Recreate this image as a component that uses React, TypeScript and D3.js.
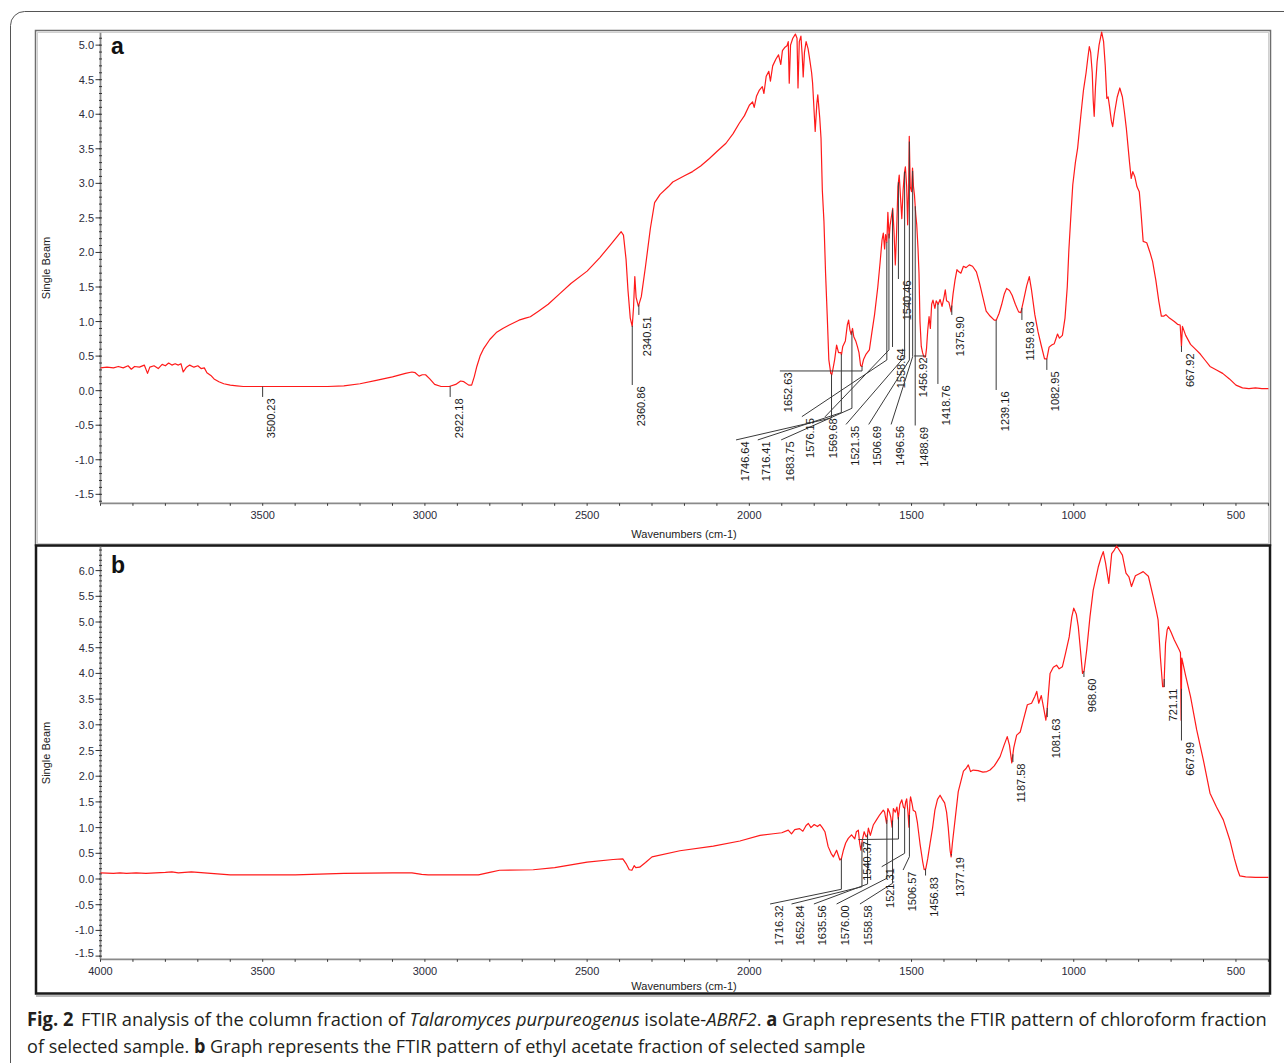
import React, { useLayoutEffect, useRef } from 'react';
import * as d3 from 'd3';

// ---- panel a: chloroform fraction (wavenumber, single beam) ----
const wnA = [
  4000, 3980, 3960, 3945, 3930, 3915, 3905, 3895, 3880, 3865, 3855, 3848, 3835, 3822, 3810, 3800, 3790, 3780,
  3770, 3760, 3752, 3745, 3735, 3725, 3712, 3700, 3690, 3680, 3672, 3660, 3650, 3635, 3620, 3600, 3580, 3560,
  3500, 3300, 3250, 3200, 3150, 3100, 3060, 3040, 3030, 3018, 3008, 2998, 2985, 2970, 2950, 2925, 2905, 2890,
  2880, 2865, 2856, 2848, 2840, 2830, 2820, 2800, 2780, 2760, 2740, 2710, 2690, 2675, 2650, 2620, 2585, 2550,
  2500, 2460, 2430, 2395, 2388, 2380, 2374, 2367, 2361, 2357, 2353, 2349, 2342, 2333, 2320, 2305, 2292, 2275,
  2250, 2236, 2200, 2175, 2150, 2123, 2100, 2072, 2050, 2031, 2015, 2000, 1990, 1985, 1978, 1969, 1960, 1955,
  1948, 1940, 1935, 1928, 1918, 1910, 1903, 1898, 1890, 1884, 1880, 1877, 1873, 1866, 1858, 1853, 1850, 1846,
  1841, 1837, 1834, 1830, 1825, 1819, 1815, 1808, 1805, 1801, 1797, 1792, 1789, 1783, 1779, 1775, 1770, 1765,
  1760, 1755, 1749, 1746, 1742, 1737, 1731, 1725, 1718, 1716, 1712, 1704, 1698, 1694, 1690, 1686, 1682, 1678,
  1672, 1667, 1662, 1657, 1653, 1648, 1640, 1630, 1622, 1614, 1604, 1597, 1591, 1587, 1583, 1580, 1576, 1573,
  1569, 1566, 1562, 1558, 1554, 1550, 1546, 1542, 1538, 1534, 1530, 1526, 1522, 1519, 1515, 1512, 1509, 1507,
  1504, 1500, 1497, 1494, 1491, 1487, 1484, 1480, 1477, 1474, 1470, 1466, 1462, 1457, 1454, 1450, 1446, 1442,
  1438, 1434, 1428, 1424, 1418, 1412, 1406, 1400, 1396, 1392, 1385, 1378, 1372, 1366, 1360, 1354, 1348, 1340,
  1332, 1322, 1312, 1300, 1290, 1280, 1270, 1258, 1245, 1239, 1230, 1222, 1214, 1207, 1198, 1190, 1180, 1170,
  1163, 1155, 1145, 1137, 1130, 1120, 1110, 1100, 1090, 1083, 1076, 1068, 1060, 1050, 1044, 1035, 1027, 1020,
  1015, 1008, 1003, 995, 988, 978, 970, 962, 957, 952, 948, 943, 940, 937, 933, 928, 922, 914, 908, 903, 898,
  894, 890, 884, 880, 875, 866, 858, 850, 844, 838, 834, 828, 823, 818, 812, 805, 798, 793, 786, 775, 765, 757,
  747, 738, 730, 722, 716, 705, 690, 680, 672, 668, 665, 655, 640, 625, 610, 595, 580, 560, 541, 520, 500, 480,
  460, 440, 420, 400,
];
const beamA = [
  0.33, 0.34, 0.33, 0.35, 0.33, 0.36, 0.31, 0.35, 0.34, 0.37, 0.25, 0.34, 0.36, 0.32, 0.38, 0.36, 0.40, 0.37,
  0.39, 0.37, 0.39, 0.27, 0.34, 0.37, 0.34, 0.36, 0.32, 0.33, 0.26, 0.22, 0.17, 0.13, 0.10, 0.08, 0.07, 0.06,
  0.06, 0.06, 0.07, 0.10, 0.15, 0.20, 0.25, 0.27, 0.26, 0.21, 0.23, 0.23, 0.17, 0.09, 0.06, 0.06, 0.09, 0.14,
  0.13, 0.08, 0.08, 0.20, 0.35, 0.50, 0.60, 0.74, 0.84, 0.90, 0.95, 1.02, 1.05, 1.07, 1.15, 1.25, 1.40, 1.55,
  1.73, 1.93, 2.10, 2.30, 2.25, 1.90, 1.45, 1.05, 0.93, 1.20, 1.65, 1.35, 1.22, 1.36, 1.80, 2.35, 2.72, 2.84,
  2.95, 3.02, 3.11, 3.17, 3.25, 3.36, 3.46, 3.58, 3.72, 3.87, 3.98, 4.13, 4.18, 4.10, 4.26, 4.35, 4.40, 4.30,
  4.55, 4.62, 4.48, 4.70, 4.80, 4.86, 4.72, 4.92, 4.97, 4.99, 5.05, 4.45, 5.00, 5.10, 5.16, 5.10, 4.38, 5.05,
  5.13, 4.85, 4.54, 4.90, 5.05, 4.95, 4.83, 4.60, 4.45, 4.10, 3.75, 4.15, 4.28, 3.95, 3.65, 2.90, 2.45, 1.70,
  1.10, 0.45, 0.25, 0.23, 0.32, 0.45, 0.66, 0.55, 0.55, 0.52, 0.64, 0.72, 0.95, 1.02, 0.88, 0.81, 0.90, 0.78,
  0.72, 0.64, 0.55, 0.36, 0.35, 0.45, 0.53, 0.59, 0.85, 1.10, 1.50, 1.85, 2.18, 2.28, 2.05, 2.26, 2.15, 2.58,
  2.21, 2.40, 2.52, 2.64, 2.30, 1.82, 2.30, 2.95, 3.12, 2.80, 2.49, 2.90, 3.15, 3.24, 2.95, 2.40, 2.90, 3.68,
  2.95, 2.88, 3.22, 2.95, 2.83, 2.55, 2.40, 2.05, 1.70, 1.00, 0.64, 0.55, 0.49, 0.49, 0.60, 0.88, 1.07, 0.90,
  1.25, 1.31, 1.19, 1.30, 1.25, 1.32, 1.22, 1.35, 1.46, 1.30, 1.28, 1.14, 1.40, 1.60, 1.75, 1.72, 1.70, 1.80,
  1.78, 1.82, 1.80, 1.72, 1.55, 1.35, 1.15, 1.08, 1.02, 1.02, 1.12, 1.25, 1.40, 1.48, 1.45, 1.38, 1.25, 1.14,
  1.13, 1.30, 1.52, 1.65, 1.45, 1.10, 0.85, 0.65, 0.46, 0.46, 0.63, 0.66, 0.68, 0.82, 0.76, 0.80, 1.05, 1.50,
  2.04, 2.60, 2.98, 3.30, 3.51, 3.99, 4.35, 4.60, 4.80, 4.98, 4.90, 4.60, 4.20, 3.97, 4.40, 4.76, 5.00, 5.19, 5.05, 4.71, 4.23,
  4.25, 4.12, 3.90, 3.82, 4.00, 4.25, 4.38, 4.25, 4.04, 3.80, 3.60, 3.30, 3.07, 3.17, 3.10, 2.95, 2.88, 2.60, 2.16, 2.14, 2.00, 1.87,
  1.60, 1.30, 1.08, 1.08, 1.10, 1.05, 1.00, 0.96, 0.95, 0.64, 0.93, 0.80, 0.67, 0.60, 0.53, 0.44, 0.35, 0.30, 0.25, 0.17, 0.08, 0.04,
  0.03, 0.04, 0.03, 0.03,
];

// ---- panel b: ethyl acetate fraction ----
const wnB = [
  4000, 3960, 3940, 3920, 3890, 3860, 3830, 3800, 3780, 3760, 3740, 3720, 3700, 3680, 3660, 3640, 3620, 3600,
  3500, 3450, 3400, 3350, 3250, 3100, 3040, 3010, 2990, 2835, 2800, 2770, 2666, 2600, 2500, 2420, 2390, 2380,
  2370, 2362, 2355, 2350, 2338, 2320, 2300, 2214, 2111, 2029, 1967, 1926, 1900, 1880, 1870, 1860, 1845, 1835,
  1825, 1818, 1810, 1800, 1790, 1782, 1775, 1767, 1757, 1748, 1741, 1731, 1721, 1716, 1710, 1703, 1695, 1685,
  1675, 1670, 1664, 1660, 1656, 1652, 1646, 1640, 1636, 1633, 1627, 1618, 1608, 1598, 1587, 1583, 1577, 1573,
  1568, 1564, 1560, 1556, 1550, 1545, 1541, 1536, 1530, 1525, 1521, 1518, 1515, 1511, 1508, 1505, 1503, 1498,
  1495, 1488, 1482, 1474, 1466, 1461, 1456, 1450, 1443, 1435, 1428, 1420, 1412, 1405, 1398, 1392, 1387, 1381,
  1378, 1374, 1365, 1356, 1348, 1340, 1332, 1325, 1318, 1310, 1295, 1280, 1268, 1258, 1245, 1237, 1227, 1215,
  1205, 1198, 1191, 1185, 1176, 1165, 1155, 1143, 1130, 1120, 1114, 1108, 1100, 1092, 1086, 1082, 1073, 1063,
  1053, 1045, 1035, 1025, 1014, 1006, 1000, 992, 986, 980, 973, 968, 960, 950, 940, 932, 924, 916, 909, 902,
  897, 892, 888, 883, 875, 868, 860, 850, 839, 830, 822, 810, 795, 786, 770, 755, 745, 740, 733, 726, 722, 717,
  712, 708, 700, 690, 675, 671, 669, 667, 655, 640, 621, 600, 580, 560, 539, 519, 505, 495, 488, 470, 440, 400,
];
const beamB = [
  0.12, 0.11, 0.12, 0.11, 0.12, 0.11, 0.12, 0.13, 0.14, 0.12, 0.13, 0.14, 0.13, 0.12, 0.11, 0.10, 0.09, 0.08,
  0.08, 0.08, 0.08, 0.09, 0.11, 0.12, 0.12, 0.09, 0.08, 0.08, 0.13, 0.17, 0.18, 0.22, 0.33, 0.38, 0.39, 0.30,
  0.18, 0.17, 0.26, 0.22, 0.23, 0.32, 0.43, 0.55, 0.64, 0.74, 0.85, 0.88, 0.90, 0.95, 0.88, 0.96, 0.98, 0.93,
  1.04, 1.08, 1.00, 1.06, 1.02, 1.06, 1.00, 0.92, 0.63, 0.50, 0.43, 0.56, 0.37, 0.40, 0.56, 0.70, 0.79, 0.86,
  0.78, 0.92, 0.95, 0.70, 0.56, 0.75, 0.92, 0.82, 0.85, 0.99, 0.85, 1.05, 1.15, 1.25, 1.34, 1.30, 1.08, 1.37,
  1.30, 1.20, 1.01, 1.37, 1.30, 1.40, 1.17, 1.45, 1.54, 1.40, 1.37, 1.50, 1.56, 1.30, 1.01, 1.50, 1.60, 1.45,
  1.34, 1.31, 1.10, 0.69, 0.35, 0.18, 0.20, 0.40, 0.69, 1.00, 1.34, 1.55, 1.63, 1.55, 1.48, 1.30, 1.01, 0.55,
  0.43, 0.70, 1.20, 1.70, 1.90, 2.10, 2.15, 2.22, 2.09, 2.12, 2.11, 2.08, 2.09, 2.12, 2.20, 2.28, 2.38, 2.60,
  2.77, 2.60, 2.26, 2.55, 2.80, 2.86, 3.10, 3.39, 3.42, 3.55, 3.65, 3.42, 3.57, 3.30, 3.09, 3.30, 4.00, 4.12,
  4.16, 4.09, 4.13, 4.40, 4.71, 5.10, 5.27, 5.15, 4.91, 4.50, 4.00, 4.05, 4.46, 5.10, 5.62, 5.85, 6.08, 6.25, 6.37, 6.15,
  5.95, 5.75, 6.00, 6.33, 6.40, 6.48, 6.40, 6.30, 5.95, 5.88, 5.69, 5.90, 5.95, 5.98, 5.89, 5.49, 5.20, 5.04, 4.32, 3.74, 3.74, 4.59,
  4.85, 4.91, 4.80, 4.65, 4.46, 4.40, 3.09, 4.30, 3.95, 3.55, 2.90, 2.30, 1.67, 1.40, 1.15, 0.76, 0.40, 0.18, 0.06, 0.04, 0.03, 0.03,
];

// peak labels (cm-1)
const peaksA = [
  3500.23, 2922.18, 2360.86, 2340.51, 1746.64, 1716.41, 1683.75, 1652.63, 1576.15, 1569.68, 1558.64, 1540.46,
  1521.35, 1506.69, 1496.56, 1488.69, 1456.92, 1418.76, 1375.9, 1239.16, 1159.83, 1082.95, 667.92,
];
const peaksB = [
  1716.32, 1652.84, 1635.56, 1576.0, 1558.58, 1540.37, 1521.31, 1506.57, 1456.83, 1377.19, 1187.58, 1081.63,
  968.6, 721.11, 667.99,
];

// callout layout per peak: [elbow value | null, label wavenumber | null, label top value]
const calloutsA: [number | null, number | null, number][] = [
  [null, null, -0.091], [null, null, -0.091], [null, null, 0.082], [null, null, 1.096],
  [-0.395, 2041, -0.713], [-0.318, 1974, -0.713], [-0.255, 1902, -0.713], [0.285, 1906, 0.285],
  [0.444, 1838, -0.376], [0.589, 1767, -0.38], [null, null, 0.632], [null, null, 1.616],
  [0.492, 1702, -0.489], [0.444, 1632, -0.489], [0.492, 1563, -0.489], [null, null, -0.504],
  [0.502, 1492, 0.502], [null, null, 0.097], [null, null, 1.096], [null, null, 0.01],
  [null, null, 1.023], [null, null, 0.3], [null, null, 0.56],
];
const calloutsB: [number | null, number | null, number][] = [
  [-0.2, 1936, -0.486], [-0.15, 1870, -0.486], [-0.097, 1801, -0.486], [0.014, 1731, -0.486],
  [-0.084, 1659, -0.486], [0.778, 1664, 0.768], [0.5, 1592, 0.239], [0.434, 1526, 0.175],
  [null, null, 0.068], [null, null, 0.457], [null, null, 2.276], [null, null, 3.15],
  [null, null, 3.93], [null, null, 3.735], [null, null, 2.695],
];

const xTickLabelsA = [3500, 3000, 2500, 2000, 1500, 1000, 500];
const xTickLabelsB = [4000, 3500, 3000, 2500, 2000, 1500, 1000, 500];
const yTicksA = [5, 4.5, 4, 3.5, 3, 2.5, 2, 1.5, 1, 0.5, 0, -0.5, -1, -1.5];
const yTicksB = [6, 5.5, 5, 4.5, 4, 3.5, 3, 2.5, 2, 1.5, 1, 0.5, 0, -0.5, -1, -1.5];

const FONT = '"Liberation Sans", Arial, Helvetica, sans-serif';
const CAPTION_FONT = '"Open Sans", "Noto Sans", sans-serif';

function valueAt(wns: number[], vals: number[], w: number) {
  for (let i = 0; i < wns.length - 1; i++) {
    if (wns[i] >= w && wns[i + 1] <= w) {
      const t = (wns[i] - w) / (wns[i] - wns[i + 1]);
      return vals[i] + t * (vals[i + 1] - vals[i]);
    }
  }
  return vals[vals.length - 1];
}

function Panel({ wns, vals, peaks, callouts, yDomain, yRange, yTicks, xLabels, letter, letterY, titleY }) {
  const x = d3.scaleLinear().domain([4000, 400]).range([100.5, 1268.4]);
  const y = d3.scaleLinear().domain(yDomain).range(yRange);
  const axisY = yRange[0];
  const line = d3
    .line<number>()
    .x((d, i) => x(wns[i]))
    .y((d) => y(d));
  const minorY = d3.range(Math.ceil(yDomain[0] * 10), Math.floor(yDomain[1] * 10) + 1).map((k) => k / 10);
  const minorX = d3.range(400, 4001, 100);
  const midY = (yRange[0] + yRange[1]) / 2;

  return (
    <g>
      {/* axes */}
      <line x1={100.5} x2={100.5} y1={yRange[1]} y2={axisY} stroke="#8a8a8a" strokeWidth={1.8} />
      <line x1={100.5} x2={1269} y1={axisY} y2={axisY} stroke="#8a8a8a" strokeWidth={1.8} />
      {minorY.map((v) => (
        <line key={'my' + v} x1={99} x2={102} y1={y(v)} y2={y(v)} stroke="#333" strokeWidth={1} />
      ))}
      {yTicks.map((v) => (
        <g key={'y' + v}>
          <line x1={95.5} x2={100.5} y1={y(v)} y2={y(v)} stroke="#333" strokeWidth={1} />
          <text x={94} y={Math.min(y(v), 952.5) + 4} textAnchor="end" fontSize={11} fill="#2b2b3a" fontFamily={FONT}>
            {v.toFixed(1)}
          </text>
        </g>
      ))}
      {minorX.map((w) => (
        <line key={'mx' + w} x1={x(w)} x2={x(w)} y1={axisY} y2={axisY + 2.5} stroke="#333" strokeWidth={1} />
      ))}
      {xLabels.map((w) => (
        <text key={'x' + w} x={x(w)} y={axisY + 16} textAnchor="middle" fontSize={11} fill="#2b2b3a" fontFamily={FONT}>
          {w}
        </text>
      ))}
      <text x={684} y={titleY} textAnchor="middle" fontSize={11} fill="#222" fontFamily={FONT}>
        Wavenumbers (cm-1)
      </text>
      <text
        transform={`translate(49.5,${midY}) rotate(-90)`}
        textAnchor="middle"
        fontSize={11}
        fill="#222"
        fontFamily={FONT}
      >
        Single Beam
      </text>
      <text x={111} y={letterY} fontSize={23} fontWeight="bold" fill="#111" fontFamily={FONT}>
        {letter}
      </text>

      {/* spectrum */}
      <path d={line(vals) || ''} fill="none" stroke="#ff1a1a" strokeWidth={1.2} strokeLinejoin="round" />

      {/* peak callouts */}
      {peaks.map((p, i) => {
        const [elbow, endWn, endV] = callouts[i];
        const cx = x(p);
        const cy = y(valueAt(wns, vals, p));
        const pts: [number, number][] = [[cx, cy]];
        if (elbow !== null) pts.push([cx, y(elbow)]);
        const ex = endWn === null ? cx : x(endWn);
        const ey = y(endV);
        pts.push([ex, ey]);
        return (
          <g key={'p' + p}>
            <path d={d3.line()(pts) || ''} fill="none" stroke="#3a3a3a" strokeWidth={1} />
            <text
              transform={`translate(${ex + 12.5},${ey + 1.5}) rotate(-90)`}
              textAnchor="end"
              fontSize={11}
              fill="#1a1a1a"
              fontFamily={FONT}
            >
              {p.toFixed(2)}
            </text>
          </g>
        );
      })}
    </g>
  );
}

// caption line squeezed horizontally to the width it has in the figure
function CaptionLine({ y, width, children }) {
  const ref = useRef<SVGTextElement>(null);
  useLayoutEffect(() => {
    const el = ref.current;
    if (!el) return;
    const len = el.getComputedTextLength();
    if (len > 0) el.setAttribute('transform', `translate(27,${y}) scale(${width / len},1)`);
  }, [y, width]);
  return (
    <text ref={ref} x={0} y={0} transform={`translate(27,${y})`}>
      {children}
    </text>
  );
}

export default function App() {
  return (
    <svg
      width={1284}
      height={1063}
      style={{ position: 'absolute', left: 0, top: 0, background: '#fff' }}
      xmlns="http://www.w3.org/2000/svg"
    >
      <rect x={0} y={0} width={1284} height={1063} fill="#fff" />
      {/* outer figure frame */}
      <rect x={10.5} y={11.5} width={1300} height={1080} rx={14} fill="none" stroke="#555" strokeWidth={1} />

      {/* panel frames */}
      <rect x={35.5} y={30.5} width={1235} height={515} fill="none" stroke="#6e6e6e" strokeWidth={1.5} />
      <rect x={37.5} y={32.5} width={1231} height={511} fill="none" stroke="#d0d0d0" strokeWidth={1} />
      <rect x={36} y={545.5} width={1234} height={448} fill="none" stroke="#1a1a1a" strokeWidth={2.5} />
      <line x1={36} x2={1270} y1={996} y2={996} stroke="#777" strokeWidth={1} />

      <Panel
        wns={wnA}
        vals={beamA}
        peaks={peaksA}
        callouts={calloutsA}
        yDomain={[-1.63, 5.18]}
        yRange={[503.3, 32.7]}
        yTicks={yTicksA}
        xLabels={xTickLabelsA}
        letter="a"
        letterY={54}
        titleY={538}
      />
      <Panel
        wns={wnB}
        vals={beamB}
        peaks={peaksB}
        callouts={calloutsB}
        yDomain={[-1.562, 6.465]}
        yRange={[959.3, 546.7]}
        yTicks={yTicksB}
        xLabels={xTickLabelsB}
        letter="b"
        letterY={573}
        titleY={990}
      />

      {/* caption */}
      <g fontFamily={CAPTION_FONT} fontSize={19} fill="#231f20">
        <CaptionLine y={1026} width={1233}>
          <tspan fontWeight="bold">Fig. 2</tspan>
          <tspan dx={8}>FTIR analysis of the column fraction of </tspan>
          <tspan fontStyle="italic">Talaromyces purpureogenus</tspan>
          {' isolate-'}
          <tspan fontStyle="italic">ABRF2</tspan>
          {'. '}
          <tspan fontWeight="bold">a</tspan>
          {' Graph represents the FTIR pattern of chloroform fraction'}
        </CaptionLine>
        <CaptionLine y={1053} width={839}>
          {'of selected sample. '}
          <tspan fontWeight="bold">b</tspan>
          {' Graph represents the FTIR pattern of ethyl acetate fraction of selected sample'}
        </CaptionLine>
      </g>
    </svg>
  );
}
